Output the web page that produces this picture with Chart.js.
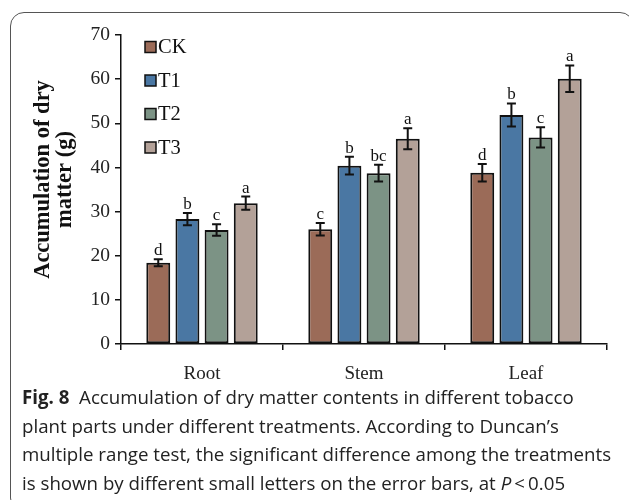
<!DOCTYPE html>
<html><head><meta charset="utf-8">
<script src="https://cdn.jsdelivr.net/npm/chart.js@4"></script>
<style>
html,body{margin:0;padding:0;background:#fff;overflow:hidden;}
#frame{position:absolute;left:10px;top:12px;width:624px;height:500px;border:1.5px solid #555;border-radius:14px;box-sizing:border-box;}
#wrap{position:absolute;left:0;top:0;width:629px;height:392px;}
#cap{position:absolute;left:22px;top:383px;width:610px;font-family:"Open Sans",sans-serif;font-size:18.7px;line-height:28.7px;color:#222;white-space:nowrap;}
</style></head><body>
<div id="frame"></div>
<div id="wrap"><canvas id="c" width="629" height="392"></canvas></div>
<div id="cap"><b>Fig. 8</b>&nbsp; Accumulation of dry matter contents in different tobacco<br>plant parts under different treatments. According to Duncan’s<br>multiple range test, the significant difference among the treatments<br>is shown by different small letters on the error bars, at <i>P</i>&thinsp;&lt;&thinsp;0.05</div>
<script>
const categories = ['Root', 'Stem', 'Leaf'];
const seriesNames = ['CK', 'T1', 'T2', 'T3'];
const ckValues = [18.4, 26.0, 38.8];
const t1Values = [28.3, 40.4, 51.9];
const t2Values = [25.8, 38.7, 46.8];
const t3Values = [31.9, 46.5, 60.1];
const ckErrors = [0.8, 1.4, 2.0];
const t1Errors = [1.4, 2.0, 2.6];
const t2Errors = [1.3, 1.9, 2.3];
const t3Errors = [1.5, 2.4, 3.0];
const ckLetters = ['d', 'c', 'd'];
const t1Letters = ['b', 'b', 'b'];
const t2Letters = ['c', 'bc', 'c'];
const t3Letters = ['a', 'a', 'a'];
const yTitle = ['Accumulation of dry', 'matter (g)'];

const colors = ['#9b6b58', '#4a77a3', '#7c9385', '#b3a198'];
const values = [ckValues, t1Values, t2Values, t3Values];
const errors = [ckErrors, t1Errors, t2Errors, t3Errors];
const letters = [ckLetters, t1Letters, t2Letters, t3Letters];
const SERIF = '"Liberation Serif", "Times New Roman", serif';

const overlay = {
  id: 'overlay',
  afterDatasetsDraw(chart) {
    const ctx = chart.ctx;
    const y = chart.scales.y;
    ctx.save();
    chart.data.datasets.forEach((ds, di) => {
      const meta = chart.getDatasetMeta(di);
      meta.data.forEach((bar, i) => {
        const v = ds.data[i], e = errors[di][i];
        const yt = y.getPixelForValue(v + e), yb = y.getPixelForValue(v - e);
        const x = bar.x;
        ctx.strokeStyle = '#111';
        ctx.lineWidth = 2;
        ctx.beginPath();
        ctx.moveTo(x, yt); ctx.lineTo(x, yb);
        ctx.moveTo(x - 4.5, yt); ctx.lineTo(x + 4.5, yt);
        ctx.moveTo(x - 4.5, yb); ctx.lineTo(x + 4.5, yb);
        ctx.stroke();
        ctx.fillStyle = '#111';
        ctx.font = '17px ' + SERIF;
        ctx.textAlign = 'center';
        ctx.textBaseline = 'alphabetic';
        ctx.fillText(letters[di][i], x, yt - 4);
      });
    });
    ctx.font = '20.5px ' + SERIF;
    ctx.textAlign = 'left';
    ctx.textBaseline = 'middle';
    chart.data.datasets.forEach((ds, di) => {
      const cy = 47 + di * 33.5;
      ctx.fillStyle = ds.backgroundColor;
      ctx.fillRect(145, cy - 5.5, 11, 11);
      ctx.strokeStyle = '#111';
      ctx.lineWidth = 1.5;
      ctx.strokeRect(145, cy - 5.5, 11, 11);
      ctx.fillStyle = '#111';
      ctx.fillText(ds.label, 158, cy + 1);
    });
    ctx.font = 'bold 22.5px ' + SERIF;
    ctx.textAlign = 'center';
    const cyT = (chart.chartArea.top + chart.chartArea.bottom) / 2 - 10;
    [43, 65].forEach((xx, k) => {
      ctx.save();
      ctx.translate(xx, cyT);
      ctx.rotate(-Math.PI / 2);
      ctx.fillText(yTitle[k], 0, 0);
      ctx.restore();
    });
    ctx.restore();
  }
};

new Chart(document.getElementById('c'), {
  type: 'bar',
  data: {
    labels: categories,
    datasets: values.map((vals, i) => ({
      label: seriesNames[i],
      data: vals,
      backgroundColor: colors[i],
      borderColor: '#111',
      borderWidth: 2,
      borderSkipped: false,
      barPercentage: 0.82,
      categoryPercentage: 0.72
    }))
  },
  options: {
    responsive: false,
    animation: false,
    layout: { padding: { top: 35, right: 22, left: 0, bottom: 0 } },
    plugins: { legend: { display: false }, tooltip: { enabled: false } },
    scales: {
      x: {
        afterFit(s) { s.height = 48; },
        grid: { offset: true, drawOnChartArea: false, drawTicks: true, tickLength: 6, color: '#111', lineWidth: 1.5 },
        border: { color: '#111', width: 1.5 },
        ticks: { font: { family: SERIF, size: 19 }, color: '#222', padding: 13 }
      },
      y: {
        min: 0, max: 70,
        afterFit(s) { s.width = 121; },
        grid: { drawOnChartArea: false, drawTicks: true, tickLength: 6, color: '#111', lineWidth: 1.5 },
        border: { color: '#111', width: 1.5 },
        ticks: { stepSize: 10, font: { family: SERIF, size: 19.5 }, color: '#222', padding: 5 }
      }
    }
  },
  plugins: [overlay]
});
</script>
</body></html>
